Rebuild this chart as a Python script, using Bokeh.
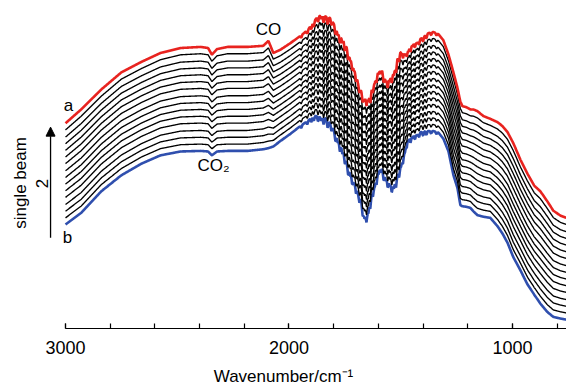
import numpy as np
from bokeh.plotting import figure
from bokeh.models import Range1d, FixedTicker, Label, Arrow, NormalHead
from bokeh.embed import file_html
from bokeh.resources import INLINE

# wavenumber grid (cm^-1) at which the two outer spectra were read
wavenumber = [3000, 2930, 2840, 2750, 2660, 2575, 2485, 2395, 2362, 2345, 2322, 2275, 2186,
              2115, 2092, 2070, 2038, 1993, 1949, 1917, 1890, 1873, 1859, 1837, 1814, 1796,
              1779, 1756, 1738, 1716, 1694, 1680, 1667, 1658, 1644, 1635, 1617, 1604, 1591,
              1577, 1559, 1546, 1532, 1515, 1501, 1483, 1470, 1456, 1443, 1421, 1398, 1376,
              1354, 1331, 1309, 1286, 1264, 1246, 1233, 1224, 1206, 1188, 1175, 1157, 1130,
              1099, 1067, 1045, 1022, 996, 964, 933, 902, 875, 844, 817, 785, 758]
# spectrum a (top, red)
spectrum_a = [3.71, 3.96, 4.32, 4.63, 4.82, 4.98, 5.07, 5.09, 5.07, 4.95, 5.05, 5.09, 5.09,
              5.11, 5.20, 4.98, 5.04, 5.16, 5.29, 5.39, 5.54, 5.63, 5.66, 5.64, 5.61, 5.48,
              5.34, 5.21, 5.04, 4.82, 4.55, 4.32, 4.20, 4.20, 4.20, 4.25, 4.50, 4.63, 4.73,
              4.59, 4.50, 4.57, 4.63, 4.86, 5.04, 5.00, 5.04, 5.11, 5.16, 5.21, 5.27, 5.34,
              5.36, 5.32, 5.21, 4.95, 4.63, 4.35, 4.10, 4.02, 4.00, 3.96, 3.96, 3.93, 3.84,
              3.79, 3.73, 3.66, 3.55, 3.35, 3.05, 2.80, 2.58, 2.48, 2.30, 2.13, 2.04, 2.00]
# spectrum b (bottom, blue)
spectrum_b = [1.88, 2.09, 2.48, 2.77, 2.98, 3.13, 3.20, 3.21, 3.20, 3.13, 3.20, 3.21, 3.21,
              3.24, 3.26, 3.29, 3.39, 3.52, 3.66, 3.75, 3.84, 3.84, 3.82, 3.80, 3.70, 3.55,
              3.40, 3.19, 2.95, 2.75, 2.54, 2.35, 2.12, 2.05, 2.18, 2.36, 2.63, 2.80, 2.95,
              2.82, 2.71, 2.64, 2.59, 2.77, 2.95, 3.21, 3.43, 3.47, 3.50, 3.54, 3.56, 3.57,
              3.57, 3.54, 3.43, 3.20, 2.77, 2.54, 2.23, 2.21, 2.20, 2.18, 2.12, 2.05, 2.02,
              2.00, 1.85, 1.72, 1.55, 1.29, 1.05, 0.80, 0.61, 0.45, 0.30, 0.21, 0.18, 0.16]
# level of every spectrum at 3000 cm^-1, from a (top) to b (bottom)
start_levels = [3.71, 3.59, 3.46, 3.34, 3.22, 3.10, 2.98, 2.85, 2.73, 2.61, 2.49, 2.37,
                2.24, 2.12, 2.00, 1.88]
# sharp water-vapour lines in the bending region
water_lines = [1945, 1918, 1900, 1889, 1870, 1845, 1827, 1810, 1792, 1772, 1750, 1735, 1717,
               1700, 1685, 1670, 1653, 1636, 1624, 1608, 1590, 1576, 1558, 1540, 1521, 1507,
               1490, 1473, 1456, 1436, 1418, 1400, 1385, 1364, 1340,
               1856, 1782, 1761, 1726, 1709, 1692, 1662, 1645, 1616, 1598, 1567, 1549, 1530,
               1498, 1481, 1465, 1446, 1427]
water_depths = [0.05, 0.06, 0.08, 0.09, 0.10, 0.12, 0.13, 0.10, 0.14, 0.15, 0.14, 0.16, 0.17,
                0.17, 0.15, 0.15, 0.18, 0.18, 0.15, 0.15, 0.12, 0.15, 0.17, 0.17, 0.16, 0.15,
                0.14, 0.12, 0.12, 0.10, 0.09, 0.08, 0.07, 0.05, 0.04,
                0.06, 0.07, 0.08, 0.09, 0.09, 0.08, 0.10, 0.10, 0.09, 0.08, 0.09, 0.09, 0.08,
                0.07, 0.07, 0.06, 0.06, 0.05]
x_ticks = [1000, 2000, 3000]
x_minor_ticks = [800, 1000, 1200, 1400, 1600, 1800, 2000, 2200, 2400, 2600, 2800, 3000]

FONT = "Liberation Sans"
RED = "#e8231f"
BLUE = "#2f4fae"

wn = np.array(wavenumber, dtype=float)
a = np.array(spectrum_a)
b = np.array(spectrum_b)
grid = np.arange(3000.0, 757.0, -1.5)
a_g = np.interp(grid, wn[::-1], a[::-1])
b_g = np.interp(grid, wn[::-1], b[::-1])
dips = np.zeros_like(grid)
for p_, d_ in zip(water_lines, water_depths):
    dips += d_ * np.clip(1 - np.abs(grid - p_) / 6.0, 0, None)

p = figure(width=566, height=388, x_range=Range1d(3291, 758), y_range=Range1d(0, 5.929),
           y_axis_location=None, toolbar_location=None, output_backend="svg",
           min_border_left=0, min_border_right=0, min_border_top=0, min_border_bottom=56)
p.outline_line_color = None
p.xgrid.visible = False
p.ygrid.visible = False
p.background_fill_color = "white"

ax = p.xaxis[0]
ax.ticker = FixedTicker(ticks=x_ticks, minor_ticks=x_minor_ticks)
ax.bounds = (758, 3000)
ax.axis_line_width = 1.2
ax.major_tick_in = 5
ax.major_tick_out = 0
ax.minor_tick_in = 5
ax.minor_tick_out = 0
ax.major_tick_line_width = 1.2
ax.minor_tick_line_width = 1.2
ax.major_label_text_font = FONT
ax.major_label_text_font_size = "18px"
ax.major_label_text_color = "black"
ax.major_label_standoff = 12
ax.axis_label = "Wavenumber/cm\u207b\u00b9"
ax.axis_label_text_font = FONT
ax.axis_label_text_font_size = "17px"
ax.axis_label_text_font_style = "normal"
ax.axis_label_text_color = "black"
ax.axis_label_standoff = 10

a0, b0 = start_levels[0], start_levels[-1]
curves = []
for lev in start_levels:
    w = (lev - b0) / (a0 - b0)
    curves.append(b_g + w * (a_g - b_g) - dips)

p.line(grid, curves[-1], line_color=BLUE, line_width=2.6)
for c in curves[1:-1]:
    p.line(grid, c, line_color="black", line_width=1.35)
p.line(grid, curves[0], line_color=RED, line_width=2.6)

def lab(x, y, t, size="17px", angle=0.0, align="center"):
    p.add_layout(Label(x=x, y=y, text=t, text_font=FONT, text_font_size=size,
                       text_align=align, text_baseline="middle", angle=angle,
                       text_color="black"))

lab(2987, 4.04, "a")
lab(2991, 1.64, "b")
lab(2092, 5.41, "CO")
lab(2409, 2.95, "CO\u2082", align="left")
lab(3201, 2.63, "single beam", angle=np.pi / 2)
lab(3107, 2.62, "2", angle=np.pi / 2)

p.add_layout(Arrow(end=NormalHead(size=9, fill_color="black", line_color="black"),
                   x_start=3067, y_start=1.64, x_end=3067, y_end=3.64,
                   line_width=1.3, line_color="black"))

open("out.html", "w").write(file_html(p, INLINE))
